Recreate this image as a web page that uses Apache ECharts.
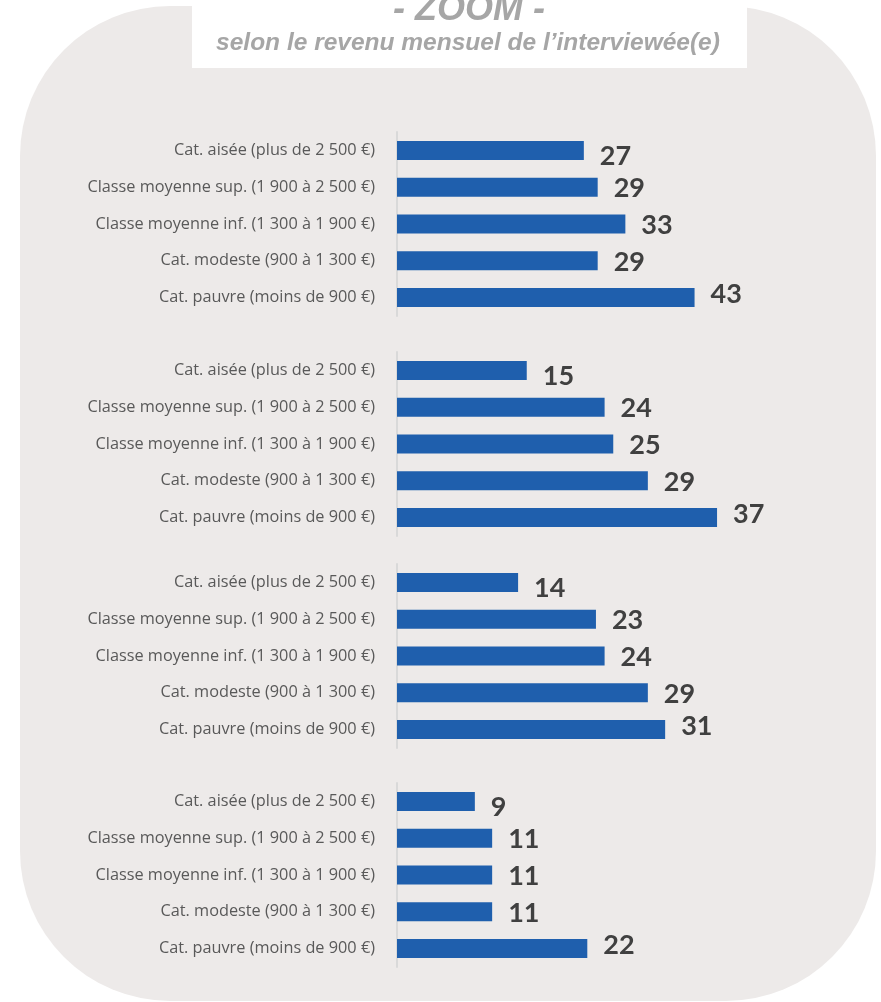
<!DOCTYPE html>
<html>
<head>
<meta charset="utf-8">
<script src="https://cdn.jsdelivr.net/npm/echarts@6/dist/echarts.min.js"></script>
<style>
  html, body { margin: 0; padding: 0; background: #fff; }
  #chart { width: 881px; height: 1002px; }
</style>
</head>
<body>
<div id="chart"></div>
<script>
// libellés des catégories de revenu (de haut en bas)
const categories = [
  'Cat. aisée (plus de 2 500 €)',
  'Classe moyenne sup. (1 900 à 2 500 €)',
  'Classe moyenne inf. (1 300 à 1 900 €)',
  'Cat. modeste (900 à 1 300 €)',
  'Cat. pauvre (moins de 900 €)'
]
// une série par bloc
const valuesGroup1 = [27, 29, 33, 29, 43]
const valuesGroup2 = [15, 24, 25, 29, 37]
const valuesGroup3 = [14, 23, 24, 29, 31]
const valuesGroup4 = [9, 11, 11, 11, 22]
const axisMax = [50, 40, 40, 40]

const titleText = '- ZOOM -'
const subtitleText = 'selon le revenu mensuel de l\u2019interviewée(e)'

const groups = [valuesGroup1, valuesGroup2, valuesGroup3, valuesGroup4]
const gridTops = [132, 352, 564, 783]
// les étiquettes du haut et du bas sont poussées dans la zone (comme dans Excel)
const rowShift = [6, 1, 1, 1, -3]

const chart = echarts.init(document.getElementById('chart'), null, { renderer: 'canvas' })

const option = {
  backgroundColor: '#ffffff',
  animation: false,
  graphic: [
    {
      type: 'rect', z: -10, silent: true,
      shape: { x: 20, y: 6, width: 856, height: 995, r: 150 },
      style: { fill: '#edeae9' }
    },
    {
      type: 'rect', z: -5, silent: true,
      shape: { x: 192, y: 0, width: 555, height: 68 },
      style: { fill: '#ffffff' }
    },
    {
      type: 'text', x: 469, y: 10,
      style: {
        text: titleText, fill: '#a6a6a6', align: 'center', verticalAlign: 'middle',
        font: 'italic bold 36px "Liberation Sans", sans-serif'
      }
    },
    {
      type: 'text', x: 468, y: 43,
      style: {
        text: subtitleText, fill: '#a6a6a6', align: 'center', verticalAlign: 'middle',
        font: 'italic bold 24.5px "Liberation Sans", sans-serif'
      }
    }
  ],
  grid: gridTops.map(t => ({ left: 397, width: 346, top: t, height: 184 })),
  xAxis: groups.map((g, i) => ({
    type: 'value', gridIndex: i, min: 0, max: axisMax[i], show: false
  })),
  yAxis: groups.map((g, i) => ({
    type: 'category', gridIndex: i, inverse: true, data: categories,
    axisLine: { show: true, lineStyle: { color: '#d9d9d9', width: 2 } },
    axisTick: { show: false },
    axisLabel: {
      margin: 22, color: '#595959', fontSize: 16.3,
      fontFamily: '"Open Sans", sans-serif'
    }
  })),
  series: groups.map((g, i) => ({
    type: 'bar', xAxisIndex: i, yAxisIndex: i,
    barWidth: 19,
    itemStyle: { color: '#1f5fad' },
    label: {
      show: true, position: 'right', distance: 16,
      color: '#404040', fontSize: 27, fontWeight: 'bold',
      fontFamily: 'Lato, sans-serif'
    },
    data: g.map((v, r) => ({ value: v, label: { offset: [0, rowShift[r]] } }))
  }))
}

chart.setOption(option)
</script>
</body>
</html>
